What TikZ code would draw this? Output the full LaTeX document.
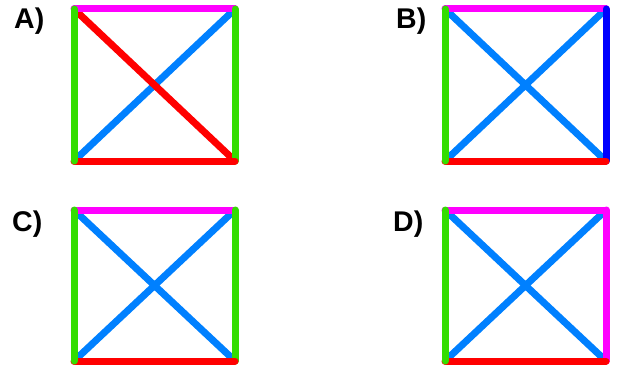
\documentclass[tikz,border=0pt]{standalone}
\usepackage{fontspec}
\setmainfont{Liberation Sans}
\definecolor{cgreen}{RGB}{51,221,0}
\definecolor{cmag}{RGB}{255,0,255}
\definecolor{cred}{RGB}{255,0,0}
\definecolor{cdiag}{RGB}{0,128,255}
\definecolor{cblue}{RGB}{0,0,255}
\tikzset{
  edge/.style={line width=7pt, line cap=round},
  diag/.style={line width=7pt, line cap=butt, shorten >=3pt, shorten <=3pt},
  lbl/.style={anchor=base west, inner sep=0pt, font=\fontsize{28.5}{28.5}\selectfont\bfseries},
}
\begin{document}
\begin{tikzpicture}[x=1pt,y=-1pt]
\useasboundingbox (0,0) rectangle (620,369);
% ---------- A ----------
\node[lbl] (la) at (14,29) {A)};
\coordinate (a1) at (74,9);   \coordinate (a2) at (235,9);
\coordinate (a3) at (74,161); \coordinate (a4) at (235,161);
\draw[diag, cdiag] (a3) -- (a2);
\draw[diag, cred] (a1) -- (a4);
\draw[edge, cmag] (a1) -- (a2);
\draw[edge, cgreen] (a2) -- (a4);
\draw[edge, cred] (a3) -- (a4);
\draw[edge, cgreen] (a1) -- (a3);
% ---------- B ----------
\node[lbl] (lb) at (396,29) {B)};
\coordinate (b1) at (445,9);   \coordinate (b2) at (606,9);
\coordinate (b3) at (445,161); \coordinate (b4) at (606,161);
\draw[diag, cdiag] (b3) -- (b2);
\draw[diag, cdiag] (b1) -- (b4);
\draw[edge, cmag] (b1) -- (b2);
\draw[edge, cblue] (b2) -- (b4);
\draw[edge, cred] (b3) -- (b4);
\draw[edge, cgreen] (b1) -- (b3);
% ---------- C ----------
\node[lbl] (lc) at (12,231) {C)};
\coordinate (c1) at (74,210);  \coordinate (c2) at (235,210);
\coordinate (c3) at (74,361);  \coordinate (c4) at (235,361);
\draw[diag, cdiag] (c3) -- (c2);
\draw[diag, cdiag] (c1) -- (c4);
\draw[edge, cmag] (c1) -- (c2);
\draw[edge, cgreen] (c2) -- (c4);
\draw[edge, cred] (c3) -- (c4);
\draw[edge, cgreen] (c1) -- (c3);
% ---------- D ----------
\node[lbl] (ld) at (393,231) {D)};
\coordinate (d1) at (445,210); \coordinate (d2) at (606,210);
\coordinate (d3) at (445,361); \coordinate (d4) at (606,361);
\draw[diag, cdiag] (d3) -- (d2);
\draw[diag, cdiag] (d1) -- (d4);
\draw[edge, cmag] (d1) -- (d2);
\draw[edge, cmag] (d2) -- (d4);
\draw[edge, cred] (d3) -- (d4);
\draw[edge, cgreen] (d1) -- (d3);
\end{tikzpicture}
\end{document}
